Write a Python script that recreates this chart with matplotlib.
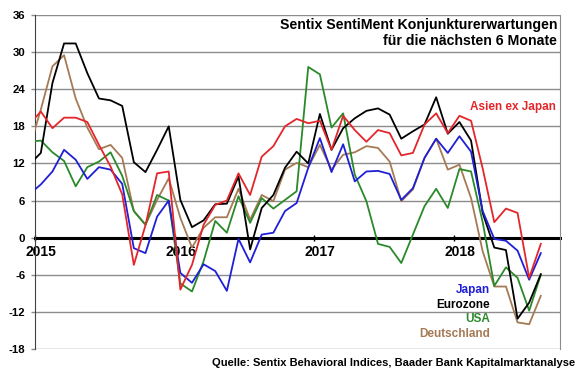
import numpy as np
import matplotlib.pyplot as plt
import matplotlib.transforms as mtransforms

plt.rcParams['font.family'] = ['Liberation Sans', 'DejaVu Sans']
plt.rcParams['font.weight'] = 'bold'

# monthly values, Dec 2014 .. Aug 2018 (first point is clipped at the left axis)
asien = [18.3, 20.4, 17.7, 19.4, 19.4, 18.7, 15.0, 11.5, 7.0, -4.4, 2.0, 10.4, 10.7,
         -8.4, -4.4, 2.1, 5.3, 6.0, 10.4, 6.9, 13.1, 14.8, 18.0, 19.2, 18.5, 18.9,
         14.2, 19.7, 17.4, 15.5, 17.4, 16.9, 13.3, 13.7, 18.3, 20.1, 16.9, 19.7, 18.9,
         11.2, 2.5, 4.7, 4.0, -6.5, -1.0]
japan = [7.0, 8.6, 10.7, 14.2, 12.6, 9.5, 11.4, 11.0, 8.7, -1.7, -2.5, 3.4, 6.0,
         -5.7, -7.3, -4.3, -5.4, -8.6, -0.2, -4.0, 0.5, 0.8, 4.3, 5.6, 11.3, 16.1,
         10.6, 15.1, 9.1, 10.7, 10.8, 10.3, 6.1, 8.0, 12.9, 16.0, 13.7, 16.4, 13.9,
         4.3, -0.2, -0.5, -2.1, -6.8, -2.5]
eurozone = [11.8, 13.7, 25.0, 31.4, 31.4, 26.6, 22.5, 22.2, 21.3, 12.2, 10.6, 14.2, 18.0,
            6.1, 1.7, 2.8, 5.4, 5.5, 9.9, -1.9, 4.8, 6.9, 11.3, 13.9, 12.0, 20.0,
            14.2, 17.7, 19.3, 20.5, 20.9, 19.9, 16.0, 17.2, 18.3, 22.7, 16.8, 18.7, 15.7,
            4.0, -1.6, -2.0, -13.1, -10.5, -5.9]
usa = [15.5, 15.7, 13.8, 12.4, 8.3, 11.4, 12.3, 13.8, 10.0, 4.3, 2.1, 6.9, 6.0,
       -7.4, -8.7, -3.8, 2.7, 0.8, 6.7, 2.4, 6.4, 4.7, 6.1, 7.5, 27.6, 26.4,
       17.8, 20.1, 10.2, 5.9, -1.0, -1.5, -4.1, 0.5, 5.1, 7.9, 4.8, 11.1, 10.7,
       2.5, -7.8, -4.8, -6.5, -11.8, -6.0]
deutschland = [14.4, 20.7, 27.7, 29.5, 22.5, 17.8, 14.3, 15.0, 12.9, 4.3, 2.1, 6.1, 9.6,
               3.2, -1.6, 1.6, 3.3, 3.3, 7.9, 2.9, 6.9, 5.9, 11.0, 12.1, 11.4, 15.0,
               11.0, 13.4, 13.8, 14.8, 14.5, 12.3, 5.9, 7.8, 12.9, 16.0, 11.0, 11.8, 6.4,
               -2.2, -7.9, -7.9, -13.7, -14.0, -9.4]

years = ['2015', '2016', '2017', '2018']
yticks = [-18, -12, -6, 0, 6, 12, 18, 24, 30, 36]

series = [
    ('Asien ex Japan', asien, '#e3262b'),
    ('Japan', japan, '#1f1fd6'),
    ('Eurozone', eurozone, '#000000'),
    ('USA', usa, '#2a8a2a'),
    ('Deutschland', deutschland, '#a57a55'),
]

# month index, data are mid-month, 0 = 1 Jan 2015
months = np.arange(-1, len(asien) - 1) + 0.5

W, H = 580, 374
fig = plt.figure(figsize=(W / 100, H / 100), dpi=100)
ax = fig.add_axes([35 / W, 1 - 349 / H, (560 - 35) / W, (349 - 15) / H])

for name, vals, col in series[::-1]:
    ax.plot(months, vals, color=col, lw=1.3, clip_on=True, zorder=3)

ax.set_xlim(0, 45.15)
ax.set_ylim(-18, 36)
ax.set_yticks(yticks)
ax.set_yticklabels([str(v) for v in yticks], fontsize=8.2, fontweight='bold')
ax.yaxis.grid(True, color='#8c8c8c', lw=1.0)
ax.set_axisbelow(True)

ax.set_xticks([0, 12, 24, 36])
ax.set_xticklabels(years, fontsize=8.2, fontweight='bold')
ax.spines['bottom'].set_position(('data', 0))
ax.spines['bottom'].set_linewidth(2.2)
ax.spines['bottom'].set_zorder(2)
ax.spines['top'].set_visible(False)
ax.spines['left'].set_color('#404040')
ax.spines['right'].set_color('#8c8c8c')
ax.tick_params(axis='x', direction='inout', length=5, width=1, pad=3)
ax.tick_params(axis='y', direction='out', length=3, width=1, color='#8c8c8c', pad=4)

shift = mtransforms.ScaledTranslation(6 / 100, 0, fig.dpi_scale_trans)
for lab in ax.get_xticklabels():
    lab.set_transform(lab.get_transform() + shift)


def ftext(x, y, s, **kw):
    fig.text(x / W, 1 - y / H, s, fontweight='bold', **kw)


ftext(557, 25, 'Sentix SentiMent Konjunkturerwartungen', ha='right', va='center', fontsize=10.2)
ftext(557, 41, 'für die nächsten 6 Monate', ha='right', va='center', fontsize=10.2)
ftext(556, 107, 'Asien ex Japan', ha='right', va='center', fontsize=8.5, color='#e3262b')
ftext(490, 290, 'Japan', ha='right', va='center', fontsize=8.5, color='#1f1fd6')
ftext(490, 305, 'Eurozone', ha='right', va='center', fontsize=8.5, color='#000000')
ftext(490, 319, 'USA', ha='right', va='center', fontsize=8.5, color='#2a8a2a')
ftext(490, 334, 'Deutschland', ha='right', va='center', fontsize=8.5, color='#a57a55')
ftext(575, 363, 'Quelle: Sentix Behavioral Indices, Baader Bank Kapitalmarktanalyse',
      ha='right', va='center', fontsize=8.0)

fig.savefig('out.png', dpi=100)
